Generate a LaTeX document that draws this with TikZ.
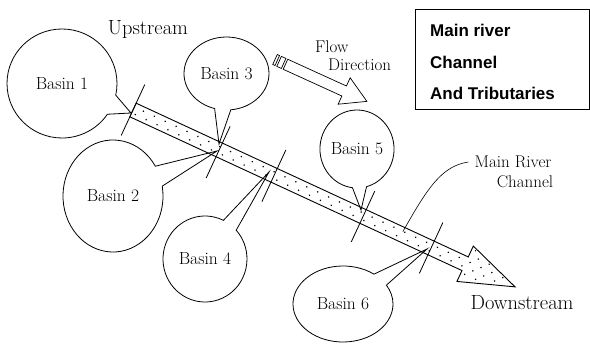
\documentclass[tikz,border=0pt]{standalone}
\usepackage{fontspec}
\newfontfamily\legendfont{Liberation Sans}
\usetikzlibrary{shapes.callouts}
\begin{document}
\begin{tikzpicture}[x=1pt,y=-1pt, line join=miter,
  basin/.style={ellipse callout, draw, line width=0.8pt, inner sep=0pt,
    callout pointer arc=22, font=\fontsize{17.5}{20}\selectfont},
  lbl/.style={inner sep=0pt, font=\fontsize{17}{20}\selectfont},
  biglbl/.style={inner sep=0pt, font=\fontsize{20.5}{24}\selectfont},
  legendtxt/.style={inner sep=0pt, anchor=west, font=\legendfont\bfseries\fontsize{17}{20}\selectfont},
  riverTick/.style={line width=0.8pt},
  riverdot/.style={fill=black},
  outline/.style={line width=0.9pt},
  hollow/.style={line width=0.7pt, fill=white},
]
\useasboundingbox (0,0) rectangle (590,345);

% main river channel (band with arrow head)
\begin{scope}[shift={(133,110)}, rotate=-24.84]
  \path[fill=white] (0,-7.5) -- (366,-7.5) -- (366,-19.5) -- (421,0) -- (366,19.5) -- (366,7.5) -- (0,7.5) -- cycle;
  \begin{scope}
    \clip (2,-6.5) -- (366,-6.5) -- (366,-18) -- (417,0) -- (366,18) -- (366,6.5) -- (2,6.5) -- cycle;
    \foreach \row in {-3,...,2} {
      \foreach \k in {0,...,35} {
        \fill[riverdot] ({\k*12 + mod(\row+10,2)*6 + 4}, {(\row+0.5)*6.5}) circle (0.85);
      }
    }
  \end{scope}
  \draw[outline] (0,-7.5) -- (366,-7.5) -- (366,-19.5) -- (421,0) -- (366,19.5) -- (366,7.5) -- (0,7.5) -- cycle;
  % junction marks
  \draw[riverTick] (0,-28) -- (0,28);
  \draw[riverTick] (95,-26) -- (95,31);
  \draw[riverTick] (155.5,-28) -- (155.5,29);
  \draw[riverTick] (253.5,-28) -- (253.5,28);
  \draw[riverTick] (328.5,-28) -- (328.5,28);
  \coordinate (rivpt) at (296,-3);
\end{scope}

% flow direction arrow
\begin{scope}[shift={(275,59.5)}, rotate=-24.5]
  \draw[hollow] (0,-5.5) rectangle (2.5,5.5);
  \draw[hollow] (4.5,-5.5) rectangle (9.5,5.5);
  \draw[hollow] (11.5,-5.5) -- (76,-5.5) -- (76,-14.5) -- (101,0) -- (76,14.5) -- (76,5.5) -- (11.5,5.5) -- cycle;
\end{scope}

% basins
\node[basin, minimum width=110, minimum height=109, callout absolute pointer={(131,113)}] (b1) at (62,83.5) {Basin 1};
\node[basin, minimum width=85, minimum height=73, callout absolute pointer={(219,144)}] (b3) at (226.5,73.5) {Basin 3};
\node[basin, minimum width=100, minimum height=112, callout absolute pointer={(217,151)}] (b2) at (113,196) {Basin 2};
\node[basin, minimum width=84, minimum height=86, callout absolute pointer={(269,172)}] (b4) at (205,259) {Basin 4};
\node[basin, minimum width=74, minimum height=78, callout absolute pointer={(361,210)}] (b5) at (357,149) {Basin 5};
\node[basin, minimum width=100, minimum height=76, callout absolute pointer={(427,249)}] (b6) at (343,304) {Basin 6};

% labels
\node[biglbl] (up) at (148,29) {Upstream};
\node[biglbl] (down) at (522,303) {Downstream};
\node[lbl, anchor=west] (flow) at (315,47) {Flow};
\node[lbl, anchor=west] (dir) at (328,65) {Direction};
\node[lbl] (mr) at (513,162) {Main River};
\node[lbl] (mrc) at (525,182) {Channel};
\draw[line width=0.6pt] ([xshift=-6pt]mr.west) .. controls (442,166) and (428,187) .. (rivpt);

% legend box
\node[draw, line width=0.8pt, minimum width=174, minimum height=100, inner sep=0pt, anchor=north west] (legbox) at (415,9) {};
\node[legendtxt] (lg1) at (430,30) {Main river};
\node[legendtxt] (lg2) at (430,62) {Channel};
\node[legendtxt] (lg3) at (430,93) {And Tributaries};
\end{tikzpicture}
\end{document}
